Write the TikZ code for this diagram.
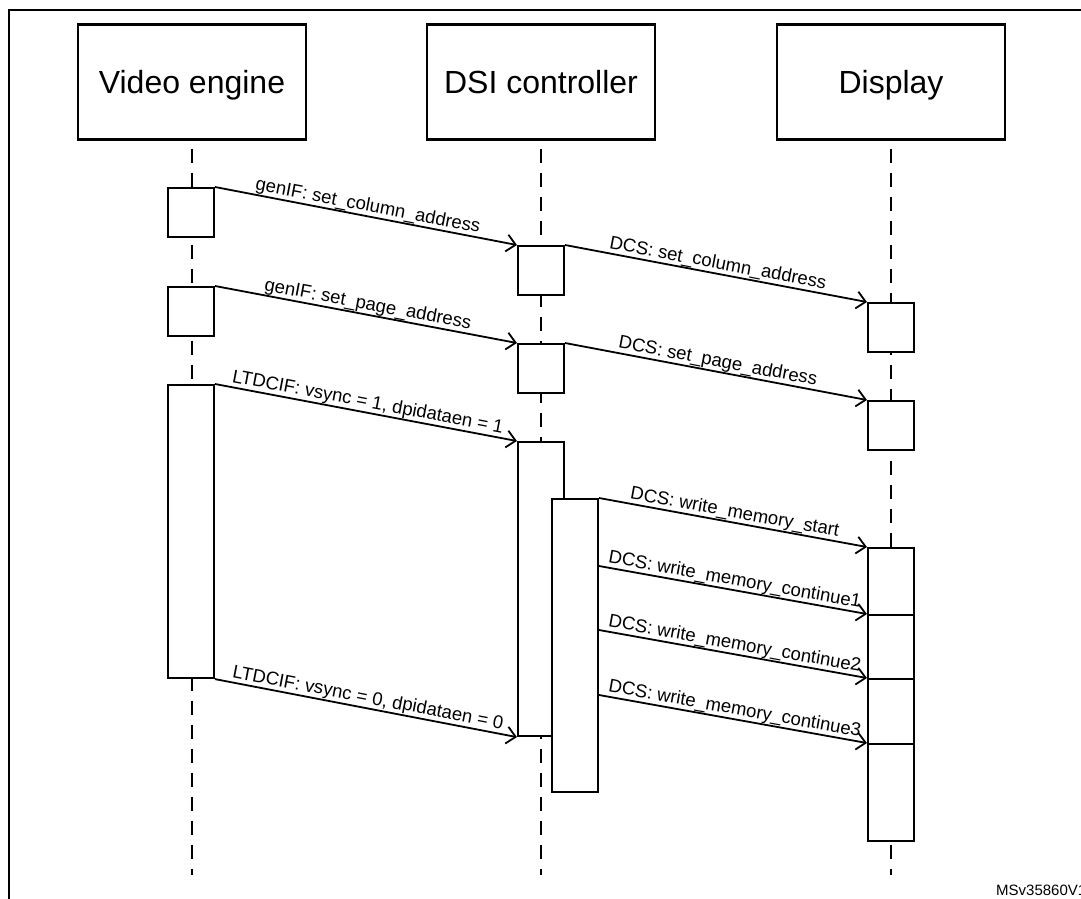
\documentclass[tikz,border=0pt]{standalone}
\usepackage{fontspec}
\setmainfont{Liberation Sans}
\usetikzlibrary{arrows.meta,calc}
\begin{document}
\begin{tikzpicture}[x=1pt,y=-1pt,
  hdr/.style={draw, line width=2.1pt, minimum width=228pt, minimum height=115pt, inner sep=0pt, text height=24pt, text depth=2pt, font=\fontsize{32}{38}\selectfont},
  act/.style={draw, fill=white, line width=2.1pt, minimum width=46pt, inner sep=0pt, anchor=north},
  life/.style={line width=1.7pt, dash pattern=on 14pt off 10pt, dash phase=16pt},
  msg/.style={line width=1.8pt, -{Straight Barb[length=9pt,width=17pt]}},
  lbl/.style={midway, sloped, above, inner sep=4pt, text depth=0pt, font=\fontsize{18.5}{22}\selectfont}]
\useasboundingbox (0,0) rectangle (1081,898);
% frame
\draw[line width=2.1pt] (9,920) -- (9,10) -- (1100,10);
% headers
\node[hdr] (ve) at (192,82) {Video engine};
\node[hdr] (dsi) at (541,82) {DSI controller};
\node[hdr] (dsp) at (891,82) {Display};
% lifelines
\coordinate (veE) at (192,875);
\coordinate (dsiE) at (541,875);
\coordinate (dspE) at (891,875);
\draw[life] (ve.south) -- (veE);
\draw[life] (dsi.south) -- (dsiE);
\draw[life] (dsp.south) -- (dspE);
% activations: video engine
\node[act, minimum height=49pt] (a1) at (191,187) {};
\node[act, minimum height=49pt] (a2) at (191,286) {};
\node[act, minimum height=293pt] (a3) at (191,384) {};
% DSI controller
\node[act, minimum height=49pt] (b1) at (541,245) {};
\node[act, minimum height=49pt] (b2) at (541,343) {};
\node[act, minimum height=294pt] (b3) at (541,441) {};
\node[act, minimum height=293pt] (b4) at (575,498) {};
% display
\node[act, minimum height=49pt] (c1) at (891,302) {};
\node[act, minimum height=49pt] (c2) at (891,400) {};
\node[act, minimum height=67pt] (c3a) at (891,547) {};
\node[act, minimum height=64pt] (c3b) at (891,614) {};
\node[act, minimum height=65pt] (c3c) at (891,678) {};
\node[act, minimum height=97pt] (c3d) at (891,743) {};
% start points on b4
\coordinate (w1) at ($(b4.north east)+(0,68)$);
\coordinate (w2) at ($(b4.north east)+(0,132)$);
\coordinate (w3) at ($(b4.north east)+(0,197)$);
% messages
\draw[msg] (a1.north east) -- (b1.north west) node[lbl] {genIF: set\_column\_address};
\draw[msg] (b1.north east) -- (c1.north west) node[lbl] {DCS: set\_column\_address};
\draw[msg] (a2.north east) -- (b2.north west) node[lbl] {genIF: set\_page\_address};
\draw[msg] (b2.north east) -- (c2.north west) node[lbl] {DCS: set\_page\_address};
\draw[msg] (a3.north east) -- (b3.north west) node[lbl] {LTDCIF: vsync = 1, dpidataen = 1};
\draw[msg] (b4.north east) -- (c3a.north west) node[lbl] {DCS: write\_memory\_start};
\draw[msg] (w1) -- (c3b.north west) node[lbl] {DCS: write\_memory\_continue1};
\draw[msg] (w2) -- (c3c.north west) node[lbl] {DCS: write\_memory\_continue2};
\draw[msg] (w3) -- (c3d.north west) node[lbl] {DCS: write\_memory\_continue3};
\draw[msg] (a3.south east) -- (b3.south west) node[lbl] {LTDCIF: vsync = 0, dpidataen = 0};
% id
\node[anchor=base west, inner sep=0pt, font=\fontsize{15}{18}\selectfont] (id) at (996,895) {MSv35860V1};
\end{tikzpicture}
\end{document}
